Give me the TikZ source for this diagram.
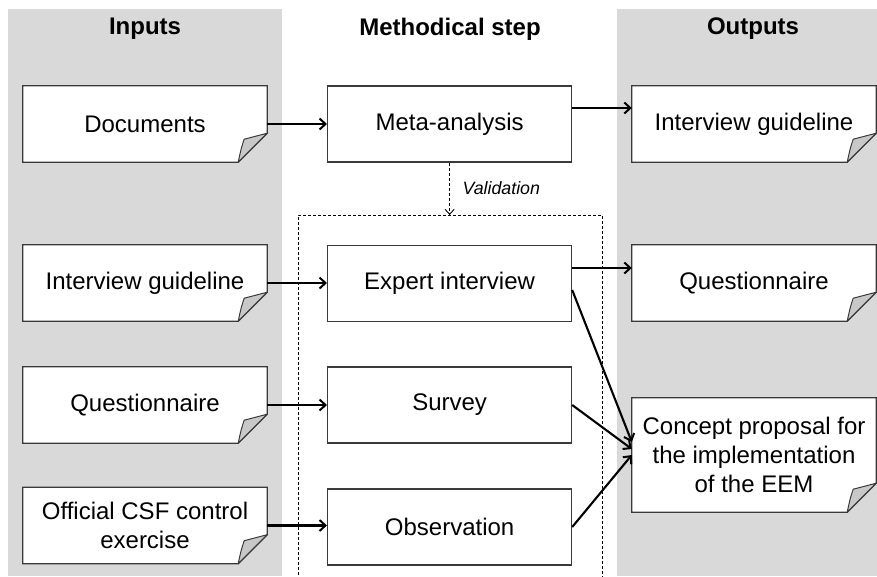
\documentclass[tikz,border=0pt]{standalone}
\usepackage{fontspec}
\setmainfont{Liberation Sans}
\usetikzlibrary{arrows.meta}

\definecolor{colgray}{HTML}{D9D9D9}
\definecolor{foldgray}{HTML}{C8C8C8}
\definecolor{edge}{HTML}{3A3A3A}

\tikzset{
  stepbox/.style={draw=edge, line width=1.2pt, fill=white, inner sep=0pt,
    minimum width=244pt, minimum height=76pt, align=center,
    font=\fontsize{24}{29}\selectfont},
  docbox/.style={inner sep=0pt, minimum width=244pt, minimum height=76pt,
    align=center, font=\fontsize{24}{29}\selectfont},
  header/.style={font=\fontsize{24}{29}\selectfont\bfseries},
  flow/.style={line width=2.1pt, -{Straight Barb[length=6pt,width=11pt,line width=2pt]}},
  valarrow/.style={line width=0.9pt, dash pattern=on 3pt off 2pt,
    -{Straight Barb[length=5pt,width=9pt,line width=0.9pt]}},
  frame/.style={line width=0.9pt, dash pattern=on 3pt off 2pt}
}

% paper sheet with a curled lower right corner, drawn around a named node
\newcommand{\paperoutline}[1]{%
  \filldraw[fill=white, draw=edge, line width=1.2pt]
    (#1.north west) -- (#1.north east) -- ([yshift=29pt]#1.south east)
    -- ([xshift=-29pt]#1.south east) -- (#1.south west) -- cycle;
  \filldraw[fill=foldgray, draw=edge, line width=1pt, line join=round]
    ([yshift=29pt]#1.south east) -- ([xshift=-23pt,yshift=23pt]#1.south east)
    .. controls ([xshift=-26pt,yshift=14pt]#1.south east) .. ([xshift=-29pt]#1.south east)
    -- cycle;
}

\begin{document}
\begin{tikzpicture}[x=1pt,y=-1pt]
  \useasboundingbox (0,0) rectangle (877,576);

  % column backgrounds
  \fill[colgray] (8,9) rectangle (282,576);
  \fill[colgray] (617,9) rectangle (877,576);

  % column headings
  \node[header] (hin)  at (145,29) {Inputs};
  \node[header] (hmid) at (450,29) {Methodical step};
  \node[header] (hout) at (753,29) {Outputs};

  % inputs
  \node[docbox] (docs) at (145,124) {};
  \node[docbox] (igin) at (145,283) {};
  \node[docbox] (qin)  at (145,405) {};
  \node[docbox] (csf)  at (145,525.5) {};

  % outputs
  \node[docbox] (igout)   at (754,124) {};
  \node[docbox] (qout)    at (754,283) {};
  \node[docbox, minimum height=114pt] (concept) at (754,455) {};

  \foreach \n in {docs,igin,qin,csf,igout,qout,concept}{\paperoutline{\n}}

  \node[docbox] at (docs)    {Documents};
  \node[docbox] at (igin)    {Interview guideline};
  \node[docbox] at (qin)     {Questionnaire};
  \node[docbox] at (csf)     {Official CSF control\\exercise};
  \node[docbox] at (igout)   {Interview guideline};
  \node[docbox] at (qout)    {Questionnaire};
  \node[docbox] at (concept) {Concept proposal for\\the implementation\\of the EEM};

  % methodical steps
  \node[stepbox] (meta)   at (449.6,124)   {Meta-analysis};
  \node[stepbox] (expert) at (449.6,283.5) {Expert interview};
  \node[stepbox] (survey) at (449.6,405)   {Survey};
  \node[stepbox] (obs)    at (449.6,527)   {Observation};

  % dashed frame around the validated steps
  \coordinate (frametop) at (449.6,215);
  \draw[frame] (298,580) -- (298,215) -- (602,215) -- (602,580);

  % validation
  \draw[valarrow] (meta.south) -- (frametop);
  \node[anchor=west, font=\fontsize{17.8}{20}\selectfont\itshape] (val) at (459,188) {Validation};

  % flows
  \draw[flow] (docs.east) -- (docs.east -| meta.west);
  \draw[flow] ([yshift=16pt]meta.east) -- ([yshift=16pt]igout.west);
  \draw[flow] (igin.east) -- (igin.east -| expert.west);
  \draw[flow] ([yshift=15.5pt]expert.east) -- ([yshift=15.5pt]expert.east -| qout.west);
  \draw[flow] (qin.east) -- (qin.east -| survey.west);
  \draw[flow] (csf.east) -- (csf.east -| obs.west);
  \draw[flow] ([yshift=-6.5pt]expert.east) -- ([yshift=13pt]concept.west);
  \draw[flow] (survey.east) -- ([yshift=6pt]concept.west);
  \draw[flow] (obs.east) -- (concept.west);
\end{tikzpicture}
\end{document}
